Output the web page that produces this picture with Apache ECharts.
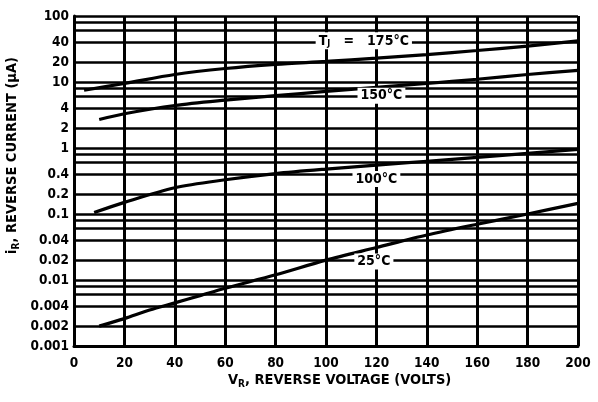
<!DOCTYPE html>
<html>
<head>
<meta charset="utf-8">
<script src="https://cdn.jsdelivr.net/npm/echarts@6/dist/echarts.min.js"></script>
<style>
html,body{margin:0;padding:0;background:#fff;}
#chart{width:598px;height:402px;}
</style>
</head>
<body>
<div id="chart"></div>
<script>
// ---- data ----
const vr175 = [4, 20, 40, 60, 80, 100, 120, 140, 160, 180, 200];
const ir175 = [7.5, 9.5, 13, 16, 18.5, 20.5, 23, 26, 30, 35, 42];
const vr150 = [10, 20, 40, 60, 80, 100, 120, 140, 160, 180, 200];
const ir150 = [2.7, 3.3, 4.4, 5.3, 6.2, 7.2, 8.3, 9.5, 11, 13, 15];
const vr100 = [8, 20, 40, 60, 80, 100, 120, 140, 160, 180, 200];
const ir100 = [0.105, 0.15, 0.25, 0.33, 0.41, 0.48, 0.55, 0.63, 0.72, 0.83, 0.95];
const vr25 = [10, 20, 30, 40, 50, 60, 80, 100, 120, 140, 160, 180, 200];
const ir25 = [0.002, 0.0026, 0.0035, 0.0045, 0.0058, 0.0075, 0.012, 0.02, 0.031, 0.048, 0.07, 0.1, 0.145];

const yLabelValues = [0.001, 0.002, 0.004, 0.01, 0.02, 0.04, 0.1, 0.2, 0.4, 1, 2, 4, 10, 20, 40, 100];
const yLabelTexts  = ['0.001','0.002','0.004','0.01','0.02','0.04','0.1','0.2','0.4','1','2','4','10','20','40','100'];
const yGridValues = [0.001,0.002,0.004,0.006,0.008,0.01,0.02,0.04,0.06,0.08,0.1,0.2,0.4,0.6,0.8,1,2,4,6,8,10,20,40,60,80,100];

const curveLabels = [
  {name: 'T_J = 175°C', x: 115, y: 42},
  {name: '150°C', x: 122, y: 6.2},
  {name: '100°C', x: 120, y: 0.34},
  {name: '25°C', x: 119, y: 0.019}
];

const FONT = 'DejaVu Sans Condensed';
const zip = (xs, ys) => xs.map((x, i) => [x, ys[i]]);

const chart = echarts.init(document.getElementById('chart'), null, {renderer: 'canvas'});

function curve(name, xs, ys) {
  return {
    type: 'line', name: name, data: zip(xs, ys), smooth: 0.3,
    symbol: 'none', lineStyle: {color: '#000', width: 3.2}, z: 3
  };
}

const richTitle = {
  b: {fontFamily: FONT, fontWeight: 'bold', fontSize: 14.5, fill: '#000'},
  s: {fontFamily: FONT, fontWeight: 'bold', fontSize: 10, fill: '#000', padding: [7, 0, 0, 0]}
};

const option = {
  animation: false,
  backgroundColor: '#fff',
  grid: {left: 74, right: 20, top: 16, bottom: 56, containLabel: false},
  xAxis: {
    type: 'value', min: 0, max: 200, interval: 20,
    axisLine: {lineStyle: {color: '#000', width: 3}},
    axisTick: {show: false},
    axisLabel: {color: '#000', fontFamily: FONT, fontWeight: 'bold', fontSize: 13.5, margin: 10},
    splitLine: {show: true, lineStyle: {color: '#000', width: 3}}
  },
  yAxis: {
    type: 'log', logBase: 10, min: 0.001, max: 100,
    axisLine: {show: true, lineStyle: {color: '#000', width: 3}},
    axisTick: {show: false, customValues: yGridValues},
    axisLabel: {
      color: '#000', fontFamily: FONT, fontWeight: 'bold', fontSize: 13.5, margin: 5,
      customValues: yLabelValues,
      formatter: function (v) {
        for (let i = 0; i < yLabelValues.length; i++) {
          if (Math.abs(Math.log10(v) - Math.log10(yLabelValues[i])) < 1e-6) return yLabelTexts[i];
        }
        return '';
      }
    },
    splitLine: {show: true, lineStyle: {color: '#000', width: 2.5}}
  },
  graphic: [
    {
      type: 'text', left: 5, top: 57, rotation: Math.PI / 2,
      style: {text: '{b|i}{s|R}{b|, REVERSE CURRENT (μA)}', rich: richTitle}
    },
    {
      type: 'text', left: 228, top: 373,
      style: {text: '{b|V}{s|R}{b|, REVERSE VOLTAGE (VOLTS)}', rich: richTitle}
    }
  ],
  series: [
    curve('175°C', vr175, ir175),
    curve('150°C', vr150, ir150),
    curve('100°C', vr100, ir100),
    curve('25°C', vr25, ir25),
    {
      type: 'scatter', data: [], z: 5,
      markPoint: {
        symbol: 'rect', symbolSize: 0,
        data: curveLabels.map(l => ({
          coord: [l.x, l.y],
          label: {
            show: true, position: 'inside',
            formatter: l.name.indexOf('T_J') === 0 ? '{b|T}{s|J}{b|   =   175°C}' : '{b|' + l.name + '}',
            backgroundColor: '#fff', padding: [1, 3],
            rich: {
              b: {fontFamily: FONT, fontWeight: 'bold', fontSize: 14, color: '#000'},
              s: {fontFamily: FONT, fontWeight: 'bold', fontSize: 9, color: '#000', padding: [6, 0, 0, 0]}
            }
          }
        }))
      }
    }
  ]
};
chart.setOption(option);
</script>
</body>
</html>
